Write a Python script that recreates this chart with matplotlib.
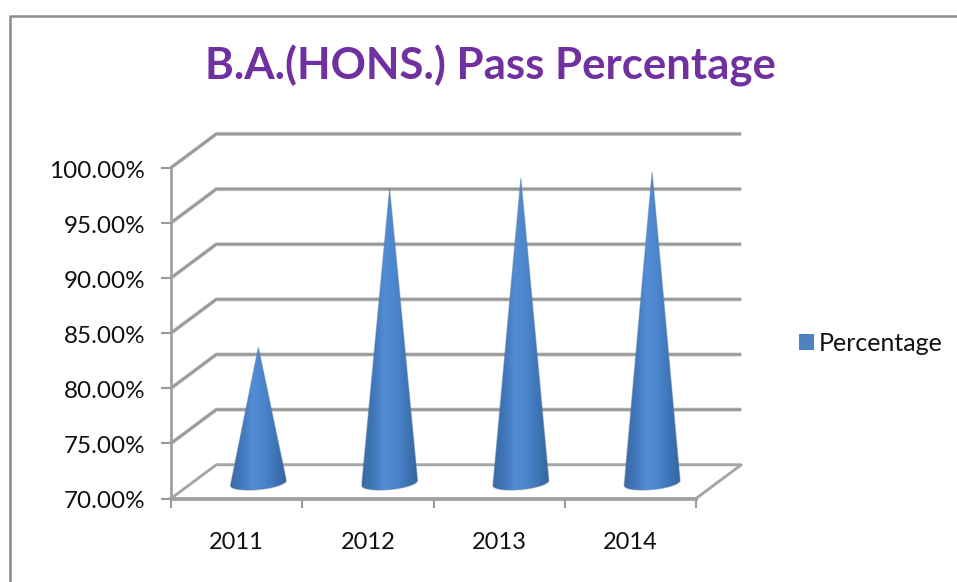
import numpy as np
import matplotlib
matplotlib.use("Agg")
import matplotlib.pyplot as plt
from matplotlib.colors import LinearSegmentedColormap
from matplotlib.lines import Line2D
from matplotlib.patches import Patch, Polygon
from matplotlib.transforms import ScaledTranslation

years = ["2011", "2012", "2013", "2014"]
percentages = [82.3, 96.7, 97.65, 98.2]
y_ticks = [70, 75, 80, 85, 90, 95, 100]
series_name = "Percentage"
chart_title = "B.A.(HONS.) Pass Percentage"

# depth of the fake 3d box, in data units
depth_x = 0.345
depth_y = 3.06
grid_color = "#999999"
font_name = "Lato"

cone_cmap = LinearSegmentedColormap.from_list(
    "cone", ["#3a6aa4", "#4077ba", "#528cd4", "#4b85cc", "#3f76b8", "#3465a0"])


def draw_grid(ax):
    right = len(years)
    for tick in y_ticks[1:]:
        for color, width in [("#d4d4d4", 3.0), (grid_color, 1.9)]:
            ax.plot([0, depth_x, right + depth_x], [tick, tick + depth_y, tick + depth_y],
                    color=color, lw=width, clip_on=False, zorder=1, solid_capstyle="butt")
    # floor of the box
    floor_x = [0, depth_x, right + depth_x, right, 0]
    floor_y = [70, 70 + depth_y, 70 + depth_y, 70, 70]
    ax.plot(floor_x, floor_y, color="#a6a6a6", lw=2.1, clip_on=False, zorder=1)


def draw_cone(ax, center, value):
    a = 0.213
    b = 0.6
    shear = 0.23
    cx = center + depth_x * 0.48
    lift = depth_y * 0.46
    base_y = 70 + lift
    apex_y = value + lift
    t = np.linspace(0, -np.pi, 60)
    outline = np.column_stack([
        np.r_[cx, cx + a * np.cos(t)],
        np.r_[apex_y, base_y + b * np.sin(t) + shear * np.cos(t)],
    ])
    shape = Polygon(outline, closed=True, facecolor="none", edgecolor="none", zorder=3)
    ax.add_patch(shape)
    shade = np.linspace(0, 1, 128).reshape(1, -1)
    image = ax.imshow(shade, cmap=cone_cmap, aspect="auto", zorder=3,
                      extent=(cx - a, cx + a, base_y - b - shear, apex_y))
    image.set_clip_path(shape)
    # soft edge, the original is a blurry screenshot
    ax.add_patch(Polygon(outline, closed=True, facecolor="none",
                         edgecolor="#5f7f9f", lw=0.9, alpha=0.45, zorder=4))


fig = plt.figure(figsize=(9.57, 5.82), dpi=100, facecolor="white")
ax = fig.add_axes([171 / 957, (582 - 498.5) / 582, 525 / 957, 330.8 / 582])
ax.patch.set_visible(False)

draw_grid(ax)
positions = np.arange(len(years)) + 0.5
for pos, value in zip(positions, percentages):
    draw_cone(ax, pos, value)

ax.set_xlim(0, len(years))
ax.set_ylim(70, 100)
ax.set_yticks(y_ticks)
ax.set_yticklabels([f"{tick:.2f}%" for tick in y_ticks], fontsize=17.5, family=font_name, color="#111111")
ax.set_xticks(range(len(years) + 1))
ax.set_xticklabels([])
ax.set_xticks(positions, minor=True)
ax.set_xticklabels(years, minor=True, fontsize=17, family=font_name, color="#111111")
ax.tick_params(axis="x", which="minor", length=0, pad=24)
ax.tick_params(axis="x", which="major", length=6.5, width=1.5, color=grid_color)
ax.tick_params(axis="y", length=7, width=1.5, color=grid_color, pad=11.5)
for side in ["top", "right"]:
    ax.spines[side].set_visible(False)
for side in ["left", "bottom"]:
    ax.spines[side].set_color("#a0a0a0")
    ax.spines[side].set_linewidth(2.0)

# y labels sit a little under their ticks in the original
label_shift = ScaledTranslation(0, -1.5 / 100, fig.dpi_scale_trans)
for label in ax.get_yticklabels():
    label.set_transform(label.get_transform() + label_shift)

fig.text(490 / 957, 1 - 66 / 582, chart_title, ha="center", va="center", color="#7030a0",
         fontsize=31.5, fontweight="bold", family=font_name)

handle = Patch(facecolor="#4f81bd", edgecolor="none", label=series_name)
fig.legend(handles=[handle], loc="center left", bbox_to_anchor=(799 / 957, 1 - 343.5 / 582),
           frameon=False, handlelength=0.6, handleheight=0.6, handletextpad=0.2,
           borderpad=0, borderaxespad=0, prop={"family": font_name, "size": 18}, labelcolor="#111111")

# outer frame is cut by the image on the right and bottom
fig.add_artist(Line2D([9.5 / 957, 9.5 / 957, 1], [0, 1 - 15.5 / 582, 1 - 15.5 / 582],
                      transform=fig.transFigure, color="#8c8c8c", lw=1.8))

fig.savefig("out.png", dpi=100)
